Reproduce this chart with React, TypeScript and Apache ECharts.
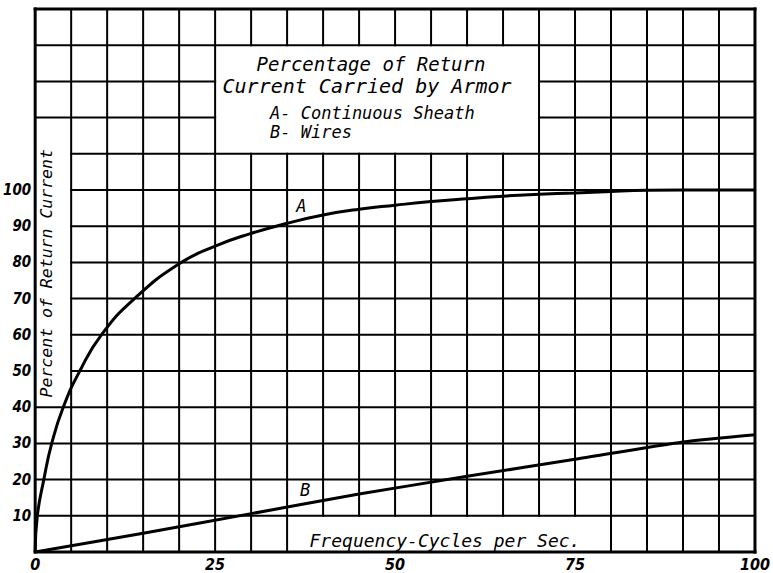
import React, { useEffect, useRef } from "react";
import * as echarts from "echarts";

// ---- data ----
const freqA = [0, 0.3, 1.2, 2.3, 3.9, 6.2, 9.2, 13.8, 20, 25, 30, 35, 40, 45, 50, 55, 60, 65, 70, 75, 80, 85, 90, 95, 100];
const pctA = [0, 10, 20, 30, 40, 50, 60, 70, 79.6, 84.5, 88, 90.8, 93.1, 94.7, 95.8, 96.8, 97.6, 98.3, 98.8, 99.2, 99.6, 99.9, 100, 100, 100];
const freqB = [0, 15, 30, 45, 60, 75, 90, 100];
const pctB = [0, 5.2, 10.6, 16, 20.9, 25.6, 30.4, 32.4];
const xTickLabels = [0, 25, 50, 75, 100];
const yTickLabels = [10, 20, 30, 40, 50, 60, 70, 80, 90, 100];

// grid ruling (data units)
const X_MIN = 0, X_MAX = 100, X_STEP = 5;
const Y_MIN = 0, Y_MAX = 150, Y_STEP = 10;
// white panels cut out of the ruling: [x0, y0, x1, y1]
const titleBox = [25, 110, 70, 140];
const yNameBox = [0, 40, 5, 120];
const xNameBox = [35, 0, 80, 10];
const boxes = [titleBox, yNameBox, xNameBox];

const MONO = "'DejaVu Sans Mono', monospace";
const NARROW = "'Liberation Sans Narrow', 'DejaVu Sans Condensed', sans-serif";

function subtract(lo: number, hi: number, gaps: number[][]) {
  const sorted = gaps.slice().sort((a, b) => a[0] - b[0]);
  const out: number[][] = [];
  let cur = lo;
  for (const [g0, g1] of sorted) {
    if (g0 > cur) out.push([cur, g0]);
    cur = Math.max(cur, g1);
  }
  if (cur < hi) out.push([cur, hi]);
  return out;
}

function buildSegments() {
  const segs: number[][] = [];
  for (let x = X_MIN + X_STEP; x < X_MAX; x += X_STEP) {
    const gaps = boxes.filter((b) => b[0] < x && x < b[2]).map((b) => [b[1], b[3]]);
    for (const [a, b] of subtract(Y_MIN, Y_MAX, gaps)) segs.push([x, a, x, b]);
  }
  for (let y = Y_MIN + Y_STEP; y < Y_MAX; y += Y_STEP) {
    const gaps = boxes.filter((b) => b[1] < y && y < b[3]).map((b) => [b[0], b[2]]);
    for (const [a, b] of subtract(X_MIN, X_MAX, gaps)) segs.push([a, y, b, y]);
  }
  return segs;
}

const border = [
  [X_MIN, Y_MIN, X_MAX, Y_MIN],
  [X_MIN, Y_MIN, X_MIN, Y_MAX],
  [X_MAX, Y_MIN, X_MAX, Y_MAX],
  [X_MIN, Y_MAX, X_MAX, Y_MAX],
];

function segSeries(data: number[][], width: number) {
  return {
    type: "custom",
    silent: true,
    clip: false,
    z: 1,
    data,
    renderItem: (params: any, api: any) => {
      const p1 = api.coord([api.value(0), api.value(1)]);
      const p2 = api.coord([api.value(2), api.value(3)]);
      return {
        type: "line",
        shape: { x1: p1[0], y1: p1[1], x2: p2[0], y2: p2[1] },
        style: { stroke: "#000", lineWidth: width, lineCap: "square" },
      };
    },
  };
}

export default function App() {
  const ref = useRef<HTMLDivElement>(null);
  useEffect(() => {
    if (!ref.current) return;
    const chart = echarts.init(ref.current, null, { renderer: "svg" });
    chart.setOption({
      animation: false,
      backgroundColor: "#fff",
      grid: { left: 33, right: 14, top: 9, bottom: 21 },
      xAxis: {
        type: "value",
        min: X_MIN,
        max: X_MAX,
        interval: 25,
        axisLine: { show: false },
        axisTick: { show: false },
        splitLine: { show: false },
        axisLabel: {
          show: true,
          margin: 4,
          color: "#000",
          fontFamily: NARROW,
          fontStyle: "italic",
          fontWeight: "bold",
          fontSize: 16,
          showMinLabel: true,
          showMaxLabel: true,
          formatter: (v: number) => (xTickLabels.includes(v) ? String(v) : ""),
        },
      },
      yAxis: {
        type: "value",
        min: Y_MIN,
        max: Y_MAX,
        interval: 10,
        axisLine: { show: false },
        axisTick: { show: false },
        splitLine: { show: false },
        axisLabel: {
          margin: 4,
          color: "#000",
          fontFamily: NARROW,
          fontStyle: "italic",
          fontWeight: "bold",
          fontSize: 15,
          formatter: (v: number) => (yTickLabels.includes(v) ? String(v) : ""),
        },
      },
      series: [
        segSeries(buildSegments(), 2),
        segSeries(border, 3),
        {
          type: "line",
          name: "A",
          data: freqA.map((x, i) => [x, pctA[i]]),
          smooth: 0.5,
          showSymbol: false,
          lineStyle: { color: "#000", width: 3 },
          z: 3,
        },
        {
          type: "line",
          name: "B",
          data: freqB.map((x, i) => [x, pctB[i]]),
          smooth: 0.2,
          showSymbol: false,
          lineStyle: { color: "#000", width: 3 },
          z: 3,
        },
      ],
    });

    const px = (x: number, y: number) => chart.convertToPixel({ gridIndex: 0 }, [x, y]) as number[];
    const txt = (text: string, p: number[], size: number, extra: any = {}) => ({
      type: "text",
      x: p[0],
      y: p[1],
      z: 10,
      style: {
        text,
        fill: "#000",
        font: `italic ${size}px ${MONO}`,
        align: "center",
        verticalAlign: "middle",
        ...extra,
      },
    });
    const aLab = px(37, 95.5);
    const bLab = px(37.5, 17);
    const yName = px(1.55, 77);
    chart.setOption({
      graphic: [
        txt("Percentage of Return", [371, 64], 19),
        txt("Current Carried by Armor", [367, 86], 20),
        txt("A- Continuous Sheath", [270, 113], 17, { align: "left" }),
        txt("B- Wires", [270, 132], 17, { align: "left" }),
        txt("Frequency-Cycles per Sec.", [445, 540], 18),
        txt("A", aLab, 17),
        txt("B", bLab, 17),
        { ...txt("Percent of Return Current", [0, 0], 16.5), x: yName[0], y: yName[1], rotation: Math.PI / 2 },
      ],
    });
    return () => chart.dispose();
  }, []);
  return <div ref={ref} style={{ position: "absolute", left: 0, top: 0, width: 773, height: 573 }} />;
}
